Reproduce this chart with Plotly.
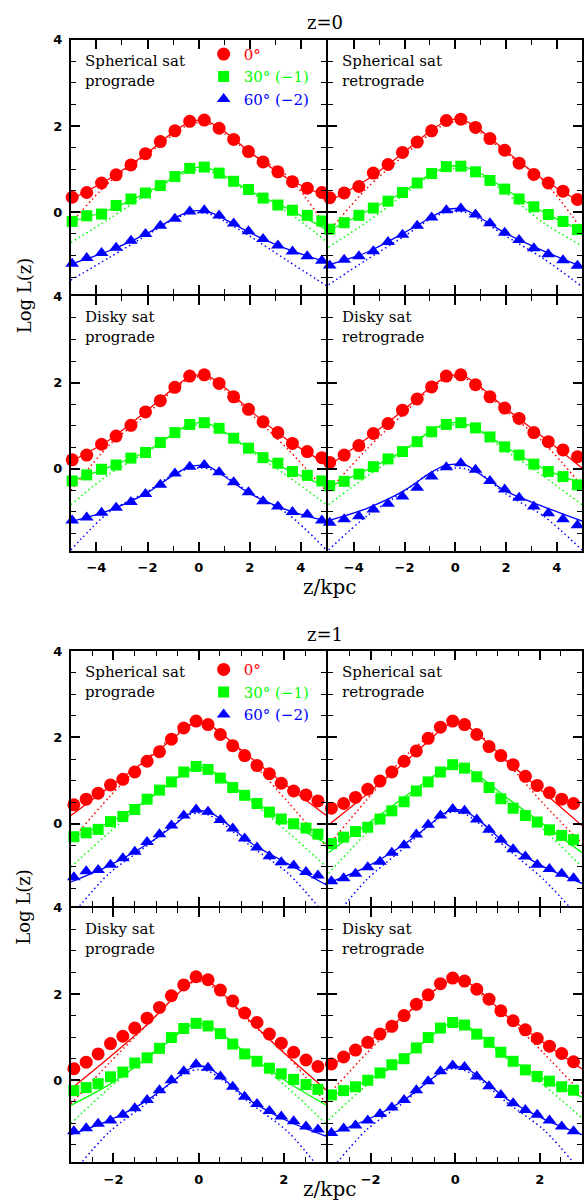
import plotly.graph_objects as go

# ---------------------------------------------------------------------------
# Vertical light profiles log L(z); 30 deg and 60 deg curves carry the
# -1 / -2 dex offsets already applied (as in the legend).
# rs0 = redshift 0 epoch, rs1 = redshift 1 epoch
# _fit2 = two-component fit (solid), _fit1 = single-component fit (dotted)
# ---------------------------------------------------------------------------

ZKPC_RS0 = [-4.95, -4.38, -3.80, -3.23, -2.65, -2.08, -1.50, -0.93, -0.35, 0.22,
            0.80, 1.37, 1.95, 2.52, 3.10, 3.67, 4.25, 4.82]
FITZ_RS0 = [-5.0, -3.5, -2.0, -1.0, -0.4, 0.0, 0.4, 1.0, 2.0, 3.5, 5.0]

ZKPC_RS1 = [-2.93, -2.64, -2.36, -2.07, -1.78, -1.50, -1.21, -0.92, -0.64, -0.35, -0.06,
            0.22, 0.51, 0.80, 1.08, 1.37, 1.66, 1.94, 2.23, 2.52, 2.80]
FITZ_RS1 = [-3.0, -2.1, -1.2, -0.6, -0.25, 0.0, 0.25, 0.6, 1.2, 2.1, 3.0]

# z=0, spherical satellite, prograde
rs0_sph_pro_0 = [0.35, 0.46, 0.68, 0.87, 1.10, 1.36, 1.64, 1.89, 2.11, 2.14, 1.95, 1.69, 1.41, 1.17, 0.94, 0.71, 0.56, 0.46]
rs0_sph_pro_30 = [-0.21, -0.08, -0.04, 0.16, 0.31, 0.45, 0.62, 0.83, 1.02, 1.05, 0.91, 0.72, 0.53, 0.33, 0.17, 0.05, -0.07, -0.20]
rs0_sph_pro_60 = [-1.19, -1.06, -0.94, -0.82, -0.66, -0.50, -0.31, -0.15, 0.02, 0.05, -0.07, -0.26, -0.44, -0.62, -0.77, -0.91, -1.02, -1.12]
rs0_sph_pro_0_fit2 = [0.30, 0.78, 1.38, 1.86, 2.08, 2.14, 2.10, 1.88, 1.40, 0.78, 0.37]
rs0_sph_pro_0_fit1 = [-0.25, 0.70, 1.35, 1.80, 2.03, 2.08, 2.05, 1.83, 1.38, 0.83, -0.35]
rs0_sph_pro_30_fit2 = [-0.22, 0.06, 0.47, 0.80, 1.00, 1.05, 1.02, 0.85, 0.50, 0.08, -0.40]
rs0_sph_pro_30_fit1 = [-0.70, -0.15, 0.43, 0.77, 0.95, 0.99, 0.96, 0.80, 0.46, 0.00, -0.68]
rs0_sph_pro_60_fit2 = [-1.20, -0.89, -0.48, -0.15, 0.01, 0.04, 0.01, -0.15, -0.47, -0.86, -1.15]
rs0_sph_pro_60_fit1 = [-1.57, -1.05, -0.52, -0.17, -0.03, -0.01, -0.03, -0.20, -0.55, -1.13, -1.70]

# z=0, spherical satellite, retrograde
rs0_sph_ret_0 = [0.34, 0.45, 0.60, 0.91, 1.11, 1.39, 1.63, 1.89, 2.13, 2.16, 1.97, 1.71, 1.44, 1.14, 0.88, 0.68, 0.49, 0.30]
rs0_sph_ret_30 = [-0.39, -0.24, -0.07, 0.10, 0.26, 0.46, 0.68, 0.90, 1.06, 1.07, 0.94, 0.74, 0.54, 0.31, 0.13, -0.05, -0.21, -0.40]
rs0_sph_ret_60 = [-1.23, -1.10, -1.02, -0.90, -0.69, -0.52, -0.31, -0.12, 0.05, 0.09, -0.05, -0.25, -0.47, -0.64, -0.83, -0.97, -1.11, -1.24]
rs0_sph_ret_0_fit2 = [0.25, 0.75, 1.40, 1.88, 2.10, 2.16, 2.12, 1.90, 1.42, 0.75, 0.22]
rs0_sph_ret_0_fit1 = [-0.45, 0.55, 1.33, 1.82, 2.05, 2.10, 2.06, 1.85, 1.38, 0.72, -0.40]
rs0_sph_ret_30_fit2 = [-0.43, 0.02, 0.49, 0.88, 1.04, 1.08, 1.05, 0.90, 0.53, 0.00, -0.43]
rs0_sph_ret_30_fit1 = [-0.81, -0.23, 0.42, 0.85, 1.00, 1.02, 1.00, 0.86, 0.45, -0.25, -0.78]
rs0_sph_ret_60_fit2 = [-1.22, -0.93, -0.47, -0.13, 0.05, 0.09, 0.06, -0.13, -0.49, -0.90, -1.26]
rs0_sph_ret_60_fit1 = [-1.68, -1.10, -0.55, -0.16, 0.00, 0.02, 0.00, -0.18, -0.55, -1.08, -1.72]

# z=0, disky satellite, prograde
rs0_dsk_pro_0 = [0.21, 0.32, 0.57, 0.76, 1.01, 1.32, 1.58, 1.89, 2.15, 2.18, 1.98, 1.67, 1.38, 1.09, 0.84, 0.59, 0.40, 0.26]
rs0_dsk_pro_30 = [-0.28, -0.14, -0.01, 0.09, 0.25, 0.38, 0.61, 0.84, 1.03, 1.07, 0.94, 0.71, 0.48, 0.26, 0.13, -0.06, -0.15, -0.28]
rs0_dsk_pro_60 = [-1.20, -1.13, -1.02, -0.90, -0.77, -0.58, -0.37, -0.11, 0.05, 0.09, -0.08, -0.31, -0.54, -0.75, -0.87, -1.00, -1.06, -1.20]
rs0_dsk_pro_0_fit2 = [0.17, 0.67, 1.36, 1.86, 2.12, 2.18, 2.14, 1.90, 1.36, 0.66, 0.12]
rs0_dsk_pro_0_fit1 = [-0.50, 0.55, 1.28, 1.82, 2.08, 2.13, 2.09, 1.85, 1.30, 0.45, -0.52]
rs0_dsk_pro_30_fit2 = [-0.29, 0.04, 0.42, 0.81, 1.02, 1.07, 1.04, 0.86, 0.46, -0.03, -0.41]
rs0_dsk_pro_30_fit1 = [-0.83, -0.12, 0.40, 0.80, 0.98, 1.02, 1.00, 0.84, 0.43, -0.18, -0.83]
rs0_dsk_pro_60_fit2 = [-1.22, -0.96, -0.55, -0.15, 0.04, 0.08, 0.05, -0.17, -0.57, -0.96, -1.21]
rs0_dsk_pro_60_fit1 = [-1.88, -1.00, -0.52, -0.13, 0.00, 0.02, 0.00, -0.15, -0.55, -1.05, -1.88]

# z=0, disky satellite, retrograde
rs0_dsk_ret_0 = [0.15, 0.32, 0.54, 0.82, 1.05, 1.36, 1.62, 1.90, 2.15, 2.18, 1.95, 1.67, 1.41, 1.17, 0.84, 0.63, 0.44, 0.28]
rs0_dsk_ret_30 = [-0.39, -0.29, -0.12, 0.05, 0.23, 0.40, 0.63, 0.86, 1.03, 1.07, 0.95, 0.74, 0.51, 0.32, 0.11, -0.06, -0.18, -0.37]
rs0_dsk_ret_60 = [-1.25, -1.17, -1.10, -0.94, -0.81, -0.64, -0.44, -0.18, 0.04, 0.13, -0.02, -0.28, -0.48, -0.67, -0.87, -1.03, -1.17, -1.31]
rs0_dsk_ret_0_fit2 = [0.07, 0.70, 1.38, 1.88, 2.12, 2.18, 2.14, 1.90, 1.40, 0.72, 0.02]
rs0_dsk_ret_0_fit1 = [-0.52, 0.45, 1.30, 1.84, 2.08, 2.13, 2.09, 1.86, 1.35, 0.60, -0.40]
rs0_dsk_ret_30_fit2 = [-0.42, -0.03, 0.44, 0.87, 1.04, 1.07, 1.04, 0.88, 0.50, 0.00, -0.34]
rs0_dsk_ret_30_fit1 = [-0.83, -0.18, 0.42, 0.86, 1.00, 1.02, 1.00, 0.85, 0.42, -0.18, -0.83]
rs0_dsk_ret_60_fit2 = [-1.20, -0.92, -0.50, -0.10, 0.08, 0.11, 0.09, -0.13, -0.52, -0.88, -1.21]
rs0_dsk_ret_60_fit1 = [-1.88, -1.10, -0.52, -0.10, 0.00, 0.02, 0.00, -0.12, -0.58, -1.10, -1.88]

# z=1, spherical satellite, prograde
rs1_sph_pro_0 = [0.44, 0.57, 0.71, 0.90, 1.03, 1.20, 1.45, 1.67, 1.96, 2.22, 2.38, 2.30, 2.07, 1.81, 1.58, 1.35, 1.16, 0.94, 0.76, 0.67, 0.53]
rs1_sph_pro_30 = [-0.30, -0.21, -0.13, 0.05, 0.17, 0.33, 0.57, 0.78, 0.97, 1.20, 1.33, 1.26, 1.06, 0.84, 0.66, 0.47, 0.27, 0.11, 0.00, -0.10, -0.24]
rs1_sph_pro_60 = [-1.24, -1.10, -1.07, -0.95, -0.80, -0.65, -0.42, -0.24, -0.04, 0.19, 0.33, 0.28, 0.09, -0.11, -0.34, -0.55, -0.75, -0.89, -0.97, -1.12, -1.20]
rs1_sph_pro_0_fit2 = [0.19, 0.85, 1.50, 1.98, 2.26, 2.36, 2.30, 2.04, 1.55, 0.86, 0.19]
rs1_sph_pro_0_fit1 = [-0.40, 0.62, 1.52, 2.03, 2.28, 2.33, 2.28, 2.03, 1.48, 0.50, -0.53]
rs1_sph_pro_30_fit2 = [-0.32, 0.03, 0.56, 1.00, 1.25, 1.31, 1.26, 1.02, 0.58, 0.03, -0.46]
rs1_sph_pro_30_fit1 = [-1.00, -0.20, 0.55, 1.00, 1.22, 1.27, 1.22, 1.00, 0.55, -0.20, -1.00]
rs1_sph_pro_60_fit2 = [-1.35, -0.97, -0.47, -0.05, 0.22, 0.30, 0.27, 0.05, -0.43, -0.93, -1.42]
rs1_sph_pro_60_fit1 = [-2.15, -1.15, -0.50, -0.02, 0.20, 0.25, 0.20, -0.02, -0.50, -1.15, -2.15]

# z=1, spherical satellite, retrograde
rs1_sph_ret_0 = [0.36, 0.47, 0.61, 0.80, 0.99, 1.20, 1.45, 1.69, 1.98, 2.24, 2.38, 2.30, 2.07, 1.79, 1.58, 1.37, 1.10, 0.89, 0.72, 0.57, 0.47]
rs1_sph_ret_30 = [-0.46, -0.31, -0.18, -0.08, 0.11, 0.30, 0.51, 0.76, 0.97, 1.20, 1.37, 1.29, 1.09, 0.84, 0.58, 0.36, 0.19, 0.04, -0.14, -0.27, -0.37]
rs1_sph_ret_60 = [-1.33, -1.26, -1.16, -1.01, -0.88, -0.67, -0.50, -0.25, -0.02, 0.19, 0.34, 0.30, 0.10, -0.14, -0.37, -0.59, -0.76, -0.95, -1.05, -1.16, -1.26]
rs1_sph_ret_0_fit2 = [-0.03, 0.68, 1.42, 1.95, 2.25, 2.35, 2.28, 2.02, 1.48, 0.72, -0.04]
rs1_sph_ret_0_fit1 = [-0.50, 0.55, 1.55, 2.05, 2.28, 2.33, 2.28, 2.05, 1.45, 0.45, -0.46]
rs1_sph_ret_30_fit2 = [-0.67, -0.02, 0.62, 1.05, 1.28, 1.35, 1.30, 1.08, 0.62, -0.02, -0.67]
rs1_sph_ret_30_fit1 = [-1.15, -0.22, 0.55, 1.02, 1.25, 1.30, 1.25, 1.02, 0.55, -0.15, -1.00]
rs1_sph_ret_60_fit2 = [-1.37, -1.00, -0.47, -0.02, 0.25, 0.33, 0.28, 0.05, -0.46, -1.00, -1.38]
rs1_sph_ret_60_fit1 = [-2.35, -1.30, -0.55, -0.02, 0.22, 0.28, 0.22, -0.02, -0.55, -1.30, -2.25]

# z=1, disky satellite, prograde
rs1_dsk_pro_0 = [0.27, 0.42, 0.61, 0.85, 1.02, 1.21, 1.44, 1.69, 1.96, 2.21, 2.40, 2.33, 2.09, 1.84, 1.56, 1.34, 1.07, 0.86, 0.65, 0.47, 0.32]
rs1_dsk_pro_30 = [-0.24, -0.17, -0.08, 0.08, 0.19, 0.40, 0.52, 0.74, 0.99, 1.20, 1.32, 1.26, 1.08, 0.84, 0.61, 0.44, 0.28, 0.15, 0.02, -0.10, -0.21]
rs1_dsk_pro_60 = [-1.18, -1.11, -1.01, -0.93, -0.80, -0.65, -0.46, -0.23, 0.00, 0.21, 0.37, 0.29, 0.09, -0.15, -0.38, -0.55, -0.71, -0.84, -0.95, -1.07, -1.14]
rs1_dsk_pro_0_fit2 = [-0.20, 0.53, 1.30, 1.90, 2.22, 2.35, 2.28, 1.98, 1.38, 0.55, -0.23]
rs1_dsk_pro_0_fit1 = [-0.55, 0.40, 1.30, 1.90, 2.22, 2.30, 2.22, 1.95, 1.35, 0.55, -0.55]
rs1_dsk_pro_30_fit2 = [-0.58, -0.10, 0.52, 0.98, 1.25, 1.32, 1.27, 1.03, 0.57, -0.05, -0.58]
rs1_dsk_pro_30_fit1 = [-1.00, -0.18, 0.55, 1.02, 1.25, 1.28, 1.25, 1.02, 0.55, -0.18, -1.02]
rs1_dsk_pro_60_fit2 = [-1.26, -0.93, -0.46, -0.02, 0.25, 0.33, 0.28, 0.02, -0.46, -0.95, -1.30]
rs1_dsk_pro_60_fit1 = [-2.20, -1.20, -0.52, -0.02, 0.20, 0.25, 0.20, -0.02, -0.52, -1.20, -2.25]

# z=1, disky satellite, retrograde
rs1_dsk_ret_0 = [0.38, 0.54, 0.70, 0.88, 1.07, 1.25, 1.50, 1.76, 1.98, 2.24, 2.37, 2.30, 2.11, 1.88, 1.61, 1.38, 1.17, 0.97, 0.79, 0.62, 0.43]
rs1_dsk_ret_30 = [-0.34, -0.24, -0.15, 0.00, 0.17, 0.36, 0.50, 0.75, 0.99, 1.21, 1.34, 1.28, 1.07, 0.88, 0.65, 0.44, 0.24, 0.09, -0.02, -0.15, -0.23]
rs1_dsk_ret_60 = [-1.22, -1.12, -1.05, -0.93, -0.78, -0.63, -0.46, -0.23, -0.02, 0.21, 0.34, 0.31, 0.09, -0.14, -0.34, -0.53, -0.69, -0.80, -0.93, -1.07, -1.18]
rs1_dsk_ret_0_fit2 = [0.30, 0.87, 1.50, 2.00, 2.25, 2.35, 2.30, 2.05, 1.51, 0.87, 0.26]
rs1_dsk_ret_0_fit1 = [-0.33, 0.62, 1.50, 2.00, 2.25, 2.30, 2.25, 2.00, 1.50, 0.62, -0.30]
rs1_dsk_ret_30_fit2 = [-0.38, -0.02, 0.52, 1.00, 1.26, 1.33, 1.28, 1.03, 0.56, 0.03, -0.39]
rs1_dsk_ret_30_fit1 = [-0.92, -0.12, 0.52, 1.00, 1.22, 1.27, 1.22, 1.00, 0.52, -0.12, -0.88]
rs1_dsk_ret_60_fit2 = [-1.25, -0.92, -0.45, 0.00, 0.25, 0.32, 0.28, 0.05, -0.42, -0.90, -1.26]
rs1_dsk_ret_60_fit1 = [-2.15, -1.15, -0.50, 0.00, 0.22, 0.27, 0.22, 0.00, -0.50, -1.15, -2.15]

PANEL_LABELS = ["Spherical sat<br>prograde", "Spherical sat<br>retrograde",
                "Disky sat<br>prograde", "Disky sat<br>retrograde"]
EPOCH_TITLES = ["z=0", "z=1"]
SERIES_NAMES = ["0°", "30° (−1)", "60° (−2)"]

# ---------------------------------------------------------------------------
W, H = 584, 1203
COLORS = ["#ff0000", "#00ff00", "#0000ff"]
SYMBOLS = ["circle", "square", "triangle-up"]
SIZES = [13, 11, 12]
TEXT_FONT = "DejaVu Serif"
TICK_FONT = dict(family="DejaVu Sans", size=13, color="black", weight="bold")

# pixel frame of the panel grid (axis lines sit just outside each domain,
# so neighbouring panels leave a 2px seam that the shared frame line fills)
COL_SPANS = [(71, 327), (329, 583)]
GROUP_ROWS = [((33, 289), (291, 547)), ((648, 904), (906, 1162))]


def fx(px):
    return px / W


def fy(py):
    return 1 - py / H


panels = [
    # axis no., group, row, col, label, heights, fit heights, series
    (1, 0, 0, 0, PANEL_LABELS[0], ZKPC_RS0, FITZ_RS0,
     [(rs0_sph_pro_0, rs0_sph_pro_0_fit2, rs0_sph_pro_0_fit1),
      (rs0_sph_pro_30, rs0_sph_pro_30_fit2, rs0_sph_pro_30_fit1),
      (rs0_sph_pro_60, rs0_sph_pro_60_fit2, rs0_sph_pro_60_fit1)]),
    (2, 0, 0, 1, PANEL_LABELS[1], ZKPC_RS0, FITZ_RS0,
     [(rs0_sph_ret_0, rs0_sph_ret_0_fit2, rs0_sph_ret_0_fit1),
      (rs0_sph_ret_30, rs0_sph_ret_30_fit2, rs0_sph_ret_30_fit1),
      (rs0_sph_ret_60, rs0_sph_ret_60_fit2, rs0_sph_ret_60_fit1)]),
    (3, 0, 1, 0, PANEL_LABELS[2], ZKPC_RS0, FITZ_RS0,
     [(rs0_dsk_pro_0, rs0_dsk_pro_0_fit2, rs0_dsk_pro_0_fit1),
      (rs0_dsk_pro_30, rs0_dsk_pro_30_fit2, rs0_dsk_pro_30_fit1),
      (rs0_dsk_pro_60, rs0_dsk_pro_60_fit2, rs0_dsk_pro_60_fit1)]),
    (4, 0, 1, 1, PANEL_LABELS[3], ZKPC_RS0, FITZ_RS0,
     [(rs0_dsk_ret_0, rs0_dsk_ret_0_fit2, rs0_dsk_ret_0_fit1),
      (rs0_dsk_ret_30, rs0_dsk_ret_30_fit2, rs0_dsk_ret_30_fit1),
      (rs0_dsk_ret_60, rs0_dsk_ret_60_fit2, rs0_dsk_ret_60_fit1)]),
    (5, 1, 0, 0, PANEL_LABELS[0], ZKPC_RS1, FITZ_RS1,
     [(rs1_sph_pro_0, rs1_sph_pro_0_fit2, rs1_sph_pro_0_fit1),
      (rs1_sph_pro_30, rs1_sph_pro_30_fit2, rs1_sph_pro_30_fit1),
      (rs1_sph_pro_60, rs1_sph_pro_60_fit2, rs1_sph_pro_60_fit1)]),
    (6, 1, 0, 1, PANEL_LABELS[1], ZKPC_RS1, FITZ_RS1,
     [(rs1_sph_ret_0, rs1_sph_ret_0_fit2, rs1_sph_ret_0_fit1),
      (rs1_sph_ret_30, rs1_sph_ret_30_fit2, rs1_sph_ret_30_fit1),
      (rs1_sph_ret_60, rs1_sph_ret_60_fit2, rs1_sph_ret_60_fit1)]),
    (7, 1, 1, 0, PANEL_LABELS[2], ZKPC_RS1, FITZ_RS1,
     [(rs1_dsk_pro_0, rs1_dsk_pro_0_fit2, rs1_dsk_pro_0_fit1),
      (rs1_dsk_pro_30, rs1_dsk_pro_30_fit2, rs1_dsk_pro_30_fit1),
      (rs1_dsk_pro_60, rs1_dsk_pro_60_fit2, rs1_dsk_pro_60_fit1)]),
    (8, 1, 1, 1, PANEL_LABELS[3], ZKPC_RS1, FITZ_RS1,
     [(rs1_dsk_ret_0, rs1_dsk_ret_0_fit2, rs1_dsk_ret_0_fit1),
      (rs1_dsk_ret_30, rs1_dsk_ret_30_fit2, rs1_dsk_ret_30_fit1),
      (rs1_dsk_ret_60, rs1_dsk_ret_60_fit2, rs1_dsk_ret_60_fit1)]),
]

X_RANGES = [[-5, 5], [-3, 3]]
X_MINOR = [1, 0.5]
Y_RANGE = [-1.9, 4]
LEGENDS = ["legend2", "legend3"]

fig = go.Figure()
layout = dict(
    width=W, height=H,
    margin=dict(l=0, r=0, t=0, b=0),
    paper_bgcolor="white", plot_bgcolor="white",
    showlegend=True,
    annotations=[],
)

axis_common = dict(
    ticks="inside", ticklen=9, tickwidth=1.5, tickcolor="black",
    showline=True, linewidth=2, linecolor="black", mirror="allticks",
    showgrid=False, zeroline=False, tickfont=TICK_FONT,
    ticklabelstandoff=4, fixedrange=True, dtick=2, tick0=0,
)

for num, grp, row, col, label, zk, fz, series in panels:
    sfx = "" if num == 1 else str(num)
    xa, ya = "x" + sfx, "y" + sfx
    y_top, y_bot = GROUP_ROWS[grp][row]
    x0, x1 = COL_SPANS[col]

    layout["xaxis" + sfx] = dict(
        axis_common, domain=[fx(x0), fx(x1)], range=X_RANGES[grp], anchor=ya,
        showticklabels=(row == 1),
        minor=dict(dtick=X_MINOR[grp], tick0=0, ticks="inside", ticklen=5,
                   tickwidth=1.2, tickcolor="black", showgrid=False),
    )
    layout["yaxis" + sfx] = dict(
        axis_common, domain=[fy(y_bot), fy(y_top)], range=Y_RANGE, anchor=xa,
        showticklabels=(col == 0),
        minor=dict(dtick=0.5, tick0=0, ticks="inside", ticklen=5,
                   tickwidth=1.2, tickcolor="black", showgrid=False),
    )

    # fitted profiles underneath the measurements
    for k, (pts, fit2, fit1) in enumerate(series):
        fig.add_trace(go.Scatter(
            x=fz, y=fit1, mode="lines", xaxis=xa, yaxis=ya, showlegend=False,
            hoverinfo="skip", legend=LEGENDS[grp],
            line=dict(color=COLORS[k], width=1.5, dash="1.5px,3px", shape="spline", smoothing=0.8)))
        fig.add_trace(go.Scatter(
            x=fz, y=fit2, mode="lines", xaxis=xa, yaxis=ya, showlegend=False,
            hoverinfo="skip", legend=LEGENDS[grp],
            line=dict(color=COLORS[k], width=1.3, shape="spline", smoothing=0.8)))

    with_legend = (row == 0 and col == 0)
    for k, (pts, fit2, fit1) in enumerate(series):
        fig.add_trace(go.Scatter(
            x=zk, y=pts, mode="markers", xaxis=xa, yaxis=ya, cliponaxis=False,
            marker=dict(symbol=SYMBOLS[k], size=SIZES[k], color=COLORS[k]),
            name=f"<span style='color:{COLORS[k]}'>{SERIES_NAMES[k]}</span>",
            showlegend=with_legend, legend=LEGENDS[grp],
        ))

    layout["annotations"].append(dict(
        text=label, xref=xa + " domain", yref=ya + " domain",
        x=12 / 256, y=1 - 10 / 256, xanchor="left", yanchor="top", align="left",
        showarrow=False, font=dict(family=TEXT_FONT, size=15, color="black")))

# epoch titles, axis titles
for grp, title in enumerate(EPOCH_TITLES):
    top = GROUP_ROWS[grp][0][0]
    mid = GROUP_ROWS[grp][0][1] + 1
    bot = GROUP_ROWS[grp][1][1]
    layout["annotations"].append(dict(
        text=title, xref="paper", yref="paper", x=fx(326), y=fy(top - 17),
        xanchor="center", yanchor="middle", showarrow=False,
        font=dict(family=TEXT_FONT, size=18, color="black")))
    layout["annotations"].append(dict(
        text="Log L(z)", xref="paper", yref="paper", x=fx(24), y=fy(mid),
        xanchor="center", yanchor="middle", textangle=-90, showarrow=False,
        font=dict(family=TEXT_FONT, size=18, color="black")))
    layout["annotations"].append(dict(
        text="z/kpc", xref="paper", yref="paper", x=fx(330),
        y=fy(bot + (36 if grp == 0 else 27)),
        xanchor="center", yanchor="middle", showarrow=False,
        font=dict(family=TEXT_FONT, size=20, color="black")))

legend_common = dict(
    xanchor="left", yanchor="top", bgcolor="rgba(0,0,0,0)", borderwidth=0,
    font=dict(family=TEXT_FONT, size=15), tracegroupgap=0, itemclick=False,
    itemdoubleclick=False,
)
layout["legend2"] = dict(legend_common, x=fx(204), y=fy(GROUP_ROWS[0][0][0] - 2))
layout["legend3"] = dict(legend_common, x=fx(204), y=fy(GROUP_ROWS[1][0][0] + 2))

fig.update_layout(**layout)
fig.write_html("out.html", config=dict(displayModeBar=False))
